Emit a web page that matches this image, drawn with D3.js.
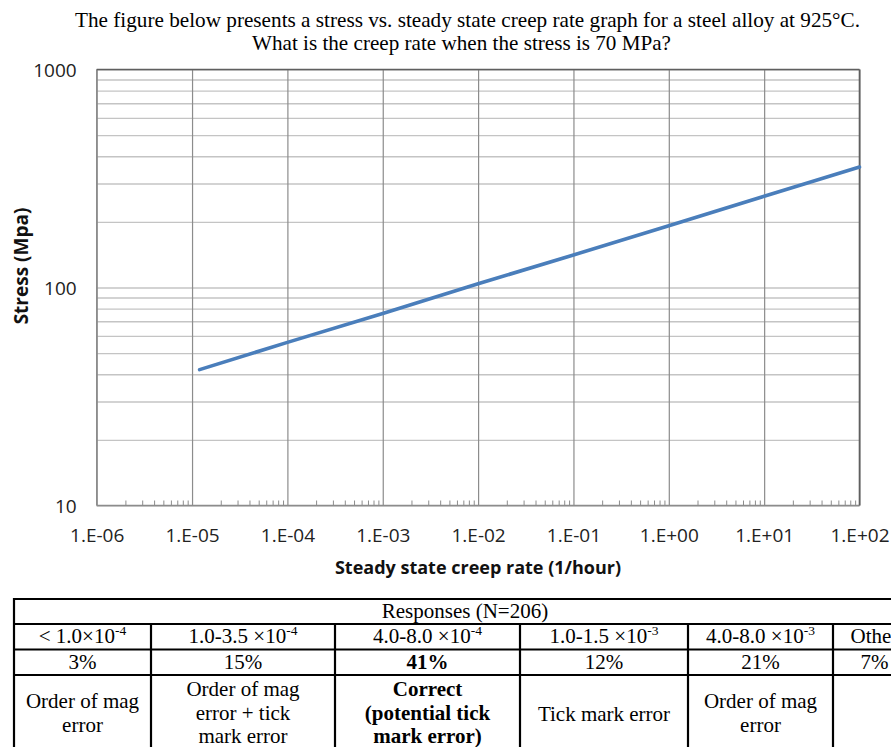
<!DOCTYPE html>
<html>
<head>
<meta charset="utf-8">
<script src="https://cdn.jsdelivr.net/npm/d3@7"></script>
<style>
  html, body { margin: 0; padding: 0; background: #fff; }
  svg { display: block; }
</style>
</head>
<body>
<svg id="chart" width="891" height="747"></svg>
<script>
// ---------- data ----------
const titleLines = [
  "The figure below presents a stress vs. steady state creep rate graph for a steel alloy at 925°C.",
  "What is the creep rate when the stress is 70 MPa?"
];
const creepRate = [1.2e-5, 1e-4, 1e-3, 1e-2, 1e-1, 1, 10, 100];
const stress    = [42, 56, 76, 104, 141, 192, 262, 357];
const xTickValues = [1e-6, 1e-5, 1e-4, 1e-3, 1e-2, 1e-1, 1, 10, 100];
const xTickLabels = ["1.E-06","1.E-05","1.E-04","1.E-03","1.E-02","1.E-01","1.E+00","1.E+01","1.E+02"];
const yTickValues = [10, 100, 1000];
const yTickLabels = ["10", "100", "1000"];
const xAxisTitle = "Steady state creep rate (1/hour)";
const yAxisTitle = "Stress (Mpa)";

const tableHeader = "Responses (N=206)";
const rangeBase = ["< 1.0×10", "1.0-3.5 ×10", "4.0-8.0 ×10", "1.0-1.5 ×10", "4.0-8.0 ×10", "Other"];
const rangeExp  = ["-4", "-4", "-4", "-3", "-3", ""];
const percents  = ["3%", "15%", "41%", "12%", "21%", "7%"];
const notes = [
  ["Order of mag", "error"],
  ["Order of mag", "error + tick", "mark error"],
  ["Correct", "(potential tick", "mark error)"],
  ["Tick mark error"],
  ["Order of mag", "error"],
  []
];
const boldColumn = 2;

// ---------- layout ----------
const svg = d3.select("#chart");
const plot = { left: 96.7, right: 859.5, top: 69.5, bottom: 505.5 };

const x = d3.scaleLog().domain([1e-6, 1e2]).range([plot.left, plot.right]);
const y = d3.scaleLog().domain([10, 1000]).range([plot.bottom, plot.top]);

// title
const serif = "'Liberation Serif', 'Times New Roman', serif";
const sans = "'Open Sans', 'Noto Sans', sans-serif";
const titleX = [75, 252], titleW = [785, 419], titleY = [27, 50];
svg.selectAll("text.title").data(titleLines).join("text")
  .attr("class", "title")
  .attr("x", (d, i) => titleX[i]).attr("y", (d, i) => titleY[i])
  .attr("textLength", (d, i) => titleW[i])
  .attr("lengthAdjust", "spacingAndGlyphs")
  .style("font-family", serif).style("font-size", "21px").attr("fill", "#000")
  .text(d => d);

// horizontal gridlines (all log ticks)
const yGridVals = y.ticks();
const yAxis = d3.axisLeft(y)
  .tickValues(yGridVals)
  .tickSize(-(plot.right - plot.left))
  .tickPadding(20)
  .tickFormat(v => { const k = yTickValues.indexOf(v); return k >= 0 ? yTickLabels[k] : ""; });
const gy = svg.append("g").attr("transform", `translate(${plot.left},0)`).call(yAxis);
gy.select(".domain").remove();
gy.selectAll(".tick line").attr("stroke", "#c4c4c4").attr("stroke-width", 1.3);
gy.selectAll(".tick text")
  .style("font-family", sans).style("font-size", "19px").attr("fill", "#222")
  .attr("dy", "0.36em");

// vertical gridlines at decades
const xAxis = d3.axisBottom(x)
  .tickValues(xTickValues)
  .tickSize(-(plot.bottom - plot.top))
  .tickFormat((v, i) => xTickLabels[i]);
const gx = svg.append("g").attr("transform", `translate(0,${plot.bottom})`).call(xAxis);
gx.select(".domain").remove();
gx.selectAll(".tick line").attr("stroke", "#8c8c8c").attr("stroke-width", 1.2);
gx.selectAll(".tick text")
  .attr("y", 36.5).attr("dy", 0)
  .style("font-family", sans).style("font-size", "19px").attr("fill", "#222");

// minor x ticks (inside, upward)
const minorVals = x.ticks().filter(v => !xTickValues.some(t => Math.abs(t - v) / t < 1e-9));
const xMinor = d3.axisBottom(x).tickValues(minorVals).tickSize(-5).tickFormat("");
const gm = svg.append("g").attr("transform", `translate(0,${plot.bottom})`).call(xMinor);
gm.select(".domain").remove();
gm.selectAll(".tick line").attr("stroke", "#8c8c8c").attr("stroke-width", 1);

// plot borders
svg.append("line").attr("x1", plot.left).attr("x2", plot.right).attr("y1", plot.bottom).attr("y2", plot.bottom)
  .attr("stroke", "#8c8c8c").attr("stroke-width", 1.6);
svg.append("line").attr("x1", plot.left).attr("x2", plot.left).attr("y1", plot.top).attr("y2", plot.bottom)
  .attr("stroke", "#8c8c8c").attr("stroke-width", 1.4);
svg.append("line").attr("x1", plot.left).attr("x2", plot.right).attr("y1", plot.top).attr("y2", plot.top)
  .attr("stroke", "#5f5f5f").attr("stroke-width", 1.6);
svg.append("line").attr("x1", plot.right).attr("x2", plot.right).attr("y1", plot.top).attr("y2", plot.bottom)
  .attr("stroke", "#5f5f5f").attr("stroke-width", 1.6);

// data line
const lineGen = d3.line().x(d => x(d[0])).y(d => y(d[1]));
svg.append("path")
  .datum(creepRate.map((c, i) => [c, stress[i]]))
  .attr("d", lineGen)
  .attr("fill", "none").attr("stroke", "#4a7ebb").attr("stroke-width", 3.6)
  .attr("stroke-linecap", "round");

// axis titles
svg.append("text").attr("x", 478).attr("y", 574)
  .attr("text-anchor", "middle")
  .style("font-family", sans).style("font-size", "18px").style("font-weight", "bold").attr("fill", "#111")
  .text(xAxisTitle);
svg.append("text").attr("transform", "translate(21,266) rotate(-90)")
  .attr("text-anchor", "middle").attr("dy", "0.35em")
  .style("font-family", sans).style("font-size", "19px").style("font-weight", "bold").attr("fill", "#111")
  .text(yAxisTitle);

// ---------- table ----------
const colEdges = [14, 151, 335, 520, 688, 833, 916];
const rowEdges = [599, 624, 649.5, 675, 760];
const tbl = svg.append("g");
const lw = 2.2;
// horizontal lines
rowEdges.slice(0, 4).forEach(yy => {
  tbl.append("line").attr("x1", colEdges[0] - 1).attr("x2", 900).attr("y1", yy).attr("y2", yy)
    .attr("stroke", "#000").attr("stroke-width", lw);
});
// left border
tbl.append("line").attr("x1", colEdges[0]).attr("x2", colEdges[0]).attr("y1", rowEdges[0] - 1).attr("y2", 760)
  .attr("stroke", "#000").attr("stroke-width", lw);
// inner column dividers (below header)
colEdges.slice(1, 6).forEach(xx => {
  tbl.append("line").attr("x1", xx).attr("x2", xx).attr("y1", rowEdges[1]).attr("y2", 760)
    .attr("stroke", "#000").attr("stroke-width", lw);
});
tbl.append("line").attr("x1", colEdges[6]).attr("x2", colEdges[6]).attr("y1", rowEdges[0]).attr("y2", 760)
  .attr("stroke", "#000").attr("stroke-width", lw);

const cellText = (xx, yy, bold) => tbl.append("text").attr("x", xx).attr("y", yy)
  .attr("text-anchor", "middle").style("font-family", serif).style("font-size", "21px")
  .style("font-weight", bold ? "bold" : "normal").attr("fill", "#000");

cellText((colEdges[0] + colEdges[6]) / 2, 618, false).text(tableHeader);

const colCenters = colEdges.slice(0, 6).map((e, i) => (e + colEdges[i + 1]) / 2);
rangeBase.forEach((b, i) => {
  const t = cellText(colCenters[i], 643, false);
  t.append("tspan").text(b);
  if (rangeExp[i]) t.append("tspan").attr("dy", -8).style("font-size", "13.5px").text(rangeExp[i]);
});
percents.forEach((p, i) => cellText(colCenters[i], 669, i === boldColumn).text(p));

notes.forEach((lines, i) => {
  const n = lines.length;
  const starts = { 1: [721], 2: [708, 732], 3: [696, 719.5, 743] };
  lines.forEach((ln, j) => cellText(colCenters[i], starts[n][j], i === boldColumn).text(ln));
});
</script>
</body>
</html>
